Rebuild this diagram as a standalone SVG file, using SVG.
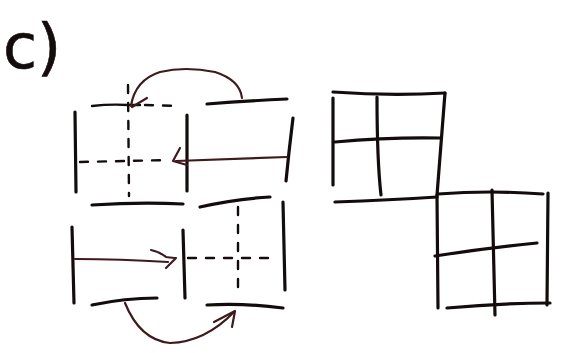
<svg xmlns="http://www.w3.org/2000/svg" width="563" height="353" viewBox="0 0 563 353">
<style>
.ink{fill:none;stroke:#140c0c;stroke-width:3.2;stroke-linecap:round;stroke-linejoin:round}
.thin{fill:none;stroke:#140c0c;stroke-width:2.4;stroke-linecap:round}
.dash{fill:none;stroke:#140c0c;stroke-width:2.4;stroke-dasharray:8 10;stroke-linecap:round}
.brown{fill:none;stroke:#3e1a1c;stroke-width:2.2;stroke-linecap:round;stroke-linejoin:round}
.label{font-family:"DejaVu Sans",sans-serif;font-size:62px;fill:#140c0c;stroke:#140c0c;stroke-width:0.6}
</style>
<rect width="563" height="353" fill="#ffffff"/>
<g id="label"><text class="label" x="3" y="68">c)</text></g>
<g id="left-top-block">
<path class="thin" d="M92,106 Q110,104 128,105 L140,105"/>
<path class="dash" d="M145,105 L180,106"/>
<path class="dash" d="M128,85 L129,196"/>
<path class="ink" d="M75,112 L76,192"/>
<path class="ink" d="M187,115 L187,191"/>
<path class="ink" d="M207,104 Q245,101 287,99"/>
<path class="ink" d="M293,118 Q289,150 286,181"/>
<path class="dash" d="M80,162 L168,160"/>
<path class="ink" d="M92,205 Q140,202 183,204"/>
<path class="ink" d="M200,207 Q235,199 270,197"/>
</g>
<g id="left-bottom-block">
<path class="ink" d="M72,227 L74,303"/>
<path class="ink" d="M183,230 L185,298"/>
<path class="dash" d="M188,258 L273,258"/>
<path class="dash" d="M238,207 L238,297"/>
<path class="ink" d="M283,202 L285,290"/>
<path class="ink" d="M92,305 Q125,298 157,298"/>
<path class="ink" d="M207,305 Q245,303 283,308"/>
</g>
<g id="grid-top">
<path class="ink" d="M333,92 Q390,96 445,93"/>
<path class="ink" d="M333,98 L333,185"/>
<path class="ink" d="M377,97 Q377,160 381,195"/>
<path class="ink" d="M445,93 L437,195"/>
<path class="ink" d="M335,142 Q390,137 440,138"/>
<path class="ink" d="M335,202 Q390,200 437,197"/>
</g>
<g id="grid-bottom">
<path class="ink" d="M438,194 Q490,190 543,194"/>
<path class="ink" d="M437,195 L438,308"/>
<path class="ink" d="M492,190 L495,315"/>
<path class="ink" d="M548,193 L547,305"/>
<path class="ink" d="M435,256 Q485,248 537,243"/>
<path class="ink" d="M447,308 Q500,303 550,303"/>
</g>
<g id="connectors">
<path class="brown" d="M131,106 Q135,80 160,72 Q185,66 215,72 Q240,80 242,98"/>
<path class="brown" d="M132,107 L147,98"/>
<path class="brown" d="M287,157 L176,161"/>
<path class="brown" d="M180,148 L173,161 L187,165"/>
<path class="brown" d="M75,259 Q120,259 168,262"/>
<path class="brown" d="M151,250 Q160,252 166,257 Q174,258 176,258 L166,268"/>
<path class="brown" d="M125,303 Q140,340 170,343 Q205,342 234,312"/>
<path class="brown" d="M214,322 L235,311 L232,327"/>
</g>
</svg>
